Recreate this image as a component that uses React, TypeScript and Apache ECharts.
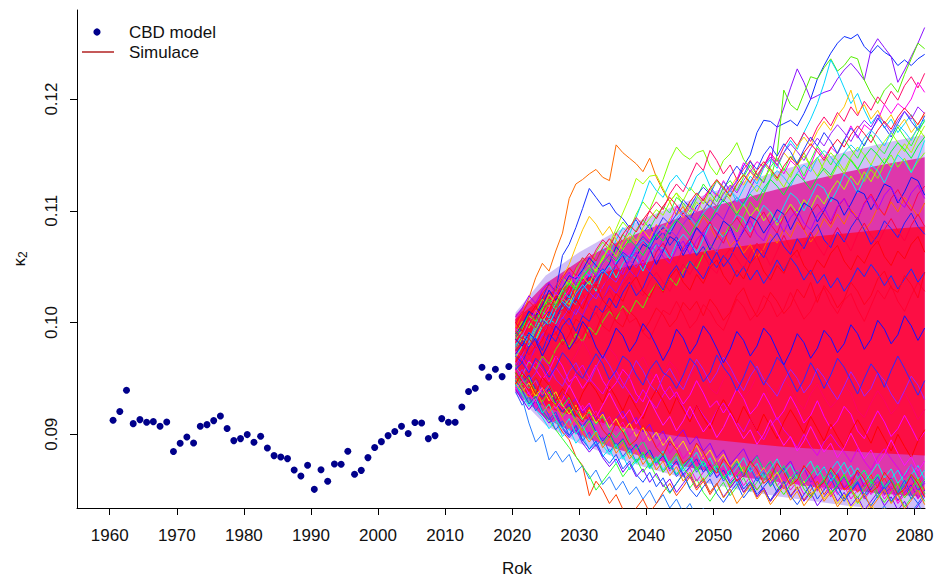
import React, { useEffect, useRef } from "react";
import * as echarts from "echarts";

const FONT = "'Liberation Sans', Arial, Helvetica, sans-serif";

// Observed kappa_2 estimates of the CBD model, one per year starting at obsStart
const obsStart = 1960.5;
const kappa2 = [
  0.09125, 0.09203, 0.09394, 0.09095, 0.09131, 0.09107, 0.09113, 0.09071, 0.0911, 0.08845,
  0.08919, 0.08976, 0.08922, 0.09071, 0.09086, 0.09122, 0.09164, 0.09051, 0.08943, 0.08961,
  0.08997, 0.08928, 0.08982, 0.08877, 0.08809, 0.08797, 0.08782, 0.0868, 0.08626, 0.08722,
  0.08507, 0.08683, 0.08579, 0.08734, 0.08731, 0.08848, 0.08642, 0.08677, 0.08791, 0.08881,
  0.08934, 0.08988, 0.09024, 0.09071, 0.09006, 0.09105, 0.09101, 0.08961, 0.08988, 0.0914,
  0.09107, 0.09107, 0.09244, 0.09382, 0.09412, 0.096, 0.09513, 0.09582, 0.09516, 0.09606,
];

// Simulated trajectories (units of 1e-4), one value per year starting at simStart
const simStart = 2020.5;
const SCALE = 10000;

const upperPaths = [
  [995, 1008, 1022, 1040, 1053, 1046, 1064, 1080, 1111, 1124, 1128, 1133, 1137, 1130, 1127, 1159, 1152, 1147, 1142, 1135, 1147, 1130, 1118, 1108, 1096, 1104, 1090, 1083, 1095, 1086, 1074, 1081, 1068, 1075, 1062, 1070, 1058, 1066, 1079, 1071, 1084, 1076, 1090, 1083, 1072, 1080, 1093, 1085, 1097, 1088, 1101, 1094, 1082, 1090, 1103, 1096, 1108, 1099, 1112, 1104, 1095, 1107],
  [985, 996, 1010, 1004, 1022, 1035, 1028, 1060, 1070, 1085, 1102, 1120, 1112, 1104, 1107, 1098, 1093, 1085, 1092, 1080, 1088, 1074, 1081, 1069, 1077, 1064, 1072, 1060, 1068, 1057, 1049, 1060, 1052, 1041, 1050, 1038, 1047, 1035, 1044, 1056, 1046, 1058, 1050, 1038, 1047, 1035, 1043, 1031, 1040, 1028, 1037, 1049, 1041, 1052, 1044, 1033, 1042, 1030, 1039, 1048, 1036, 1045],
  [972, 980, 991, 985, 998, 1010, 1003, 1016, 1025, 1018, 1030, 1042, 1036, 1048, 1040, 1052, 1061, 1055, 1067, 1074, 1066, 1078, 1085, 1079, 1090, 1098, 1092, 1104, 1110, 1103, 1115, 1108, 1120, 1126, 1140, 1150, 1170, 1181, 1180, 1175, 1178, 1181, 1176, 1187, 1200, 1218, 1230, 1241, 1250, 1256, 1254, 1258, 1247, 1241, 1248, 1242, 1238, 1230, 1235, 1230, 1236, 1240],
  [958, 970, 964, 978, 990, 983, 996, 1005, 998, 1012, 1006, 1019, 1027, 1020, 1033, 1026, 1038, 1047, 1040, 1052, 1045, 1057, 1066, 1058, 1070, 1063, 1075, 1084, 1077, 1090, 1098, 1092, 1105, 1112, 1106, 1120, 1131, 1125, 1142, 1175, 1192, 1210, 1227, 1215, 1200, 1203, 1206, 1208, 1218, 1226, 1232, 1225, 1217, 1244, 1254, 1246, 1238, 1215, 1226, 1238, 1250, 1264],
  [990, 1001, 995, 1009, 1021, 1014, 1028, 1040, 1033, 1047, 1058, 1050, 1063, 1072, 1065, 1080, 1090, 1083, 1097, 1108, 1101, 1115, 1128, 1145, 1157, 1150, 1146, 1152, 1154, 1140, 1132, 1145, 1151, 1161, 1146, 1138, 1130, 1142, 1135, 1127, 1138, 1130, 1144, 1152, 1140, 1148, 1136, 1129, 1141, 1133, 1146, 1138, 1126, 1137, 1129, 1142, 1150, 1139, 1147, 1135, 1144, 1152],
  [960, 952, 965, 958, 970, 963, 976, 985, 978, 990, 983, 996, 989, 1001, 1010, 1003, 1015, 1008, 1020, 1013, 1026, 1035, 1028, 1040, 1033, 1046, 1055, 1048, 1061, 1070, 1063, 1076, 1088, 1081, 1095, 1108, 1100, 1115, 1128, 1150, 1208, 1195, 1190, 1205, 1220, 1218, 1228, 1236, 1225, 1230, 1238, 1236, 1217, 1205, 1196, 1208, 1214, 1206, 1222, 1236, 1250, 1245],
  [978, 990, 984, 998, 1010, 1004, 1018, 1029, 1022, 1036, 1048, 1041, 1055, 1066, 1060, 1074, 1085, 1079, 1094, 1110, 1127, 1118, 1112, 1125, 1132, 1124, 1118, 1131, 1136, 1122, 1114, 1126, 1119, 1108, 1120, 1131, 1124, 1138, 1146, 1138, 1152, 1163, 1155, 1170, 1182, 1196, 1214, 1235, 1224, 1210, 1196, 1205, 1190, 1178, 1186, 1174, 1182, 1170, 1178, 1186, 1172, 1180],
  [1002, 1010, 1004, 1018, 1026, 1019, 1033, 1042, 1036, 1049, 1058, 1052, 1065, 1074, 1068, 1080, 1072, 1085, 1094, 1087, 1100, 1108, 1101, 1115, 1124, 1117, 1130, 1143, 1136, 1154, 1145, 1133, 1141, 1128, 1137, 1145, 1132, 1140, 1152, 1144, 1157, 1166, 1158, 1170, 1162, 1175, 1184, 1176, 1188, 1180, 1193, 1185, 1198, 1190, 1202, 1195, 1207, 1199, 1212, 1220, 1210, 1223],
  [968, 979, 991, 985, 999, 1012, 1025, 1040, 1052, 1068, 1083, 1095, 1088, 1078, 1086, 1074, 1065, 1077, 1070, 1083, 1075, 1088, 1080, 1093, 1101, 1094, 1106, 1099, 1111, 1104, 1116, 1109, 1121, 1130, 1123, 1135, 1127, 1140, 1148, 1140, 1152, 1145, 1158, 1166, 1158, 1171, 1180, 1172, 1185, 1193, 1208, 1187, 1195, 1182, 1190, 1178, 1186, 1174, 1182, 1170, 1178, 1186],
  [975, 986, 979, 993, 1004, 998, 1011, 1022, 1016, 1030, 1041, 1034, 1048, 1056, 1070, 1084, 1098, 1112, 1129, 1124, 1131, 1132, 1120, 1108, 1116, 1104, 1096, 1108, 1100, 1112, 1104, 1117, 1110, 1098, 1106, 1095, 1103, 1091, 1099, 1087, 1095, 1106, 1098, 1110, 1102, 1114, 1106, 1118, 1127, 1119, 1131, 1123, 1135, 1126, 1138, 1147, 1139, 1151, 1160, 1152, 1165, 1176],
  [980, 988, 1001, 994, 1006, 1019, 1012, 1021, 1036, 1030, 1041, 1049, 1045, 1060, 1054, 1066, 1079, 1071, 1083, 1092, 1084, 1095, 1104, 1098, 1112, 1107, 1099, 1111, 1124, 1116, 1108, 1121, 1127, 1118, 1130, 1141, 1132, 1126, 1139, 1147, 1136, 1149, 1143, 1131, 1145, 1158, 1150, 1141, 1152, 1164, 1155, 1147, 1160, 1168, 1157, 1151, 1163, 1175, 1166, 1158, 1170, 1181],
  [970, 979, 991, 984, 996, 1003, 999, 1013, 1021, 1016, 1030, 1037, 1028, 1044, 1051, 1040, 1053, 1061, 1057, 1046, 1059, 1070, 1066, 1057, 1071, 1079, 1072, 1062, 1075, 1088, 1083, 1076, 1085, 1097, 1093, 1081, 1094, 1105, 1099, 1090, 1104, 1116, 1111, 1100, 1112, 1124, 1120, 1108, 1119, 1133, 1127, 1116, 1129, 1141, 1136, 1125, 1138, 1150, 1144, 1134, 1147, 1163],
  [990, 998, 1010, 1006, 1015, 1029, 1020, 1031, 1042, 1039, 1047, 1058, 1051, 1044, 1053, 1068, 1060, 1047, 1059, 1070, 1066, 1052, 1064, 1077, 1073, 1060, 1071, 1085, 1078, 1065, 1077, 1091, 1086, 1072, 1082, 1095, 1091, 1080, 1089, 1101, 1097, 1083, 1095, 1107, 1103, 1090, 1100, 1112, 1109, 1096, 1106, 1118, 1115, 1101, 1112, 1124, 1121, 1107, 1117, 1130, 1127, 1114],
  [995, 988, 1000, 1011, 1004, 1013, 1027, 1020, 1029, 1043, 1036, 1044, 1039, 1052, 1063, 1055, 1064, 1060, 1073, 1081, 1072, 1087, 1080, 1089, 1104, 1095, 1103, 1099, 1112, 1120, 1113, 1127, 1117, 1128, 1143, 1135, 1144, 1139, 1151, 1141, 1133, 1145, 1139, 1128, 1141, 1156, 1147, 1157, 1151, 1163, 1176, 1165, 1177, 1172, 1181, 1195, 1187, 1196, 1191, 1200, 1215, 1206],
  [975, 984, 978, 991, 1002, 997, 1010, 1018, 1011, 1025, 1033, 1026, 1039, 1048, 1040, 1052, 1063, 1058, 1069, 1077, 1071, 1083, 1094, 1088, 1097, 1110, 1103, 1114, 1121, 1115, 1127, 1119, 1131, 1140, 1132, 1144, 1137, 1150, 1158, 1149, 1160, 1153, 1142, 1155, 1166, 1158, 1170, 1162, 1151, 1163, 1174, 1167, 1158, 1171, 1183, 1175, 1166, 1178, 1189, 1180, 1172, 1185],
  [985, 993, 1006, 1001, 1012, 1025, 1017, 1030, 1038, 1032, 1045, 1052, 1046, 1058, 1067, 1059, 1072, 1080, 1073, 1085, 1093, 1101, 1096, 1108, 1116, 1109, 1121, 1114, 1106, 1118, 1127, 1120, 1112, 1124, 1133, 1125, 1117, 1129, 1138, 1130, 1121, 1133, 1141, 1149, 1140, 1131, 1143, 1152, 1145, 1136, 1148, 1157, 1150, 1141, 1153, 1162, 1170, 1161, 1153, 1165, 1174, 1166],
  [962, 971, 983, 977, 989, 998, 992, 1004, 1013, 1007, 1019, 1027, 1021, 1032, 1041, 1036, 1048, 1056, 1049, 1061, 1070, 1063, 1075, 1083, 1077, 1088, 1096, 1090, 1101, 1110, 1104, 1115, 1123, 1116, 1127, 1136, 1129, 1140, 1148, 1141, 1152, 1160, 1153, 1145, 1156, 1165, 1158, 1169, 1177, 1170, 1162, 1173, 1181, 1175, 1186, 1179, 1170, 1181, 1189, 1182, 1193, 1187],
  [1000, 1008, 1019, 1013, 1026, 1034, 1028, 1040, 1049, 1042, 1054, 1062, 1055, 1067, 1075, 1068, 1079, 1087, 1081, 1092, 1100, 1093, 1104, 1112, 1105, 1097, 1108, 1116, 1109, 1120, 1128, 1121, 1113, 1124, 1132, 1125, 1136, 1144, 1137, 1129, 1140, 1148, 1141, 1152, 1160, 1153, 1145, 1156, 1164, 1157, 1168, 1176, 1169, 1161, 1172, 1180, 1173, 1184, 1192, 1185, 1177, 1188],
  [980, 989, 982, 995, 1004, 998, 1011, 1019, 1013, 1026, 1034, 1027, 1040, 1047, 1041, 1054, 1061, 1055, 1067, 1074, 1068, 1080, 1087, 1081, 1093, 1100, 1094, 1086, 1098, 1105, 1099, 1111, 1118, 1112, 1104, 1116, 1123, 1117, 1129, 1136, 1130, 1122, 1134, 1141, 1135, 1147, 1154, 1148, 1140, 1152, 1159, 1153, 1165, 1172, 1166, 1158, 1170, 1177, 1171, 1163, 1175, 1182],
  [988, 996, 1007, 1001, 1013, 1021, 1015, 1027, 1035, 1029, 1040, 1048, 1042, 1053, 1061, 1055, 1066, 1074, 1068, 1060, 1071, 1079, 1073, 1084, 1092, 1086, 1078, 1089, 1097, 1091, 1102, 1110, 1104, 1096, 1107, 1115, 1109, 1120, 1128, 1122, 1114, 1125, 1133, 1127, 1119, 1130, 1138, 1132, 1143, 1151, 1145, 1137, 1148, 1156, 1150, 1142, 1153, 1161, 1155, 1147, 1158, 1166],
];
const upperColors = [
  "#ff6a00", "#1530ff", "#0a2cff", "#8a10ff", "#80ff00", "#55ee00", "#00d4ff",
  "#ff0a6a", "#ffc400", "#a8ff00", "#30ff30", "#00f0f0", "#0018ff", "#ff00ee",
  "#2a3cff", "#9cff00", "#9a20ff", "#ff1030", "#20c8ff", "#00ff30",
];

const lowerPaths = [
  [945, 932, 910, 893, 900, 877, 885, 875, 882, 866, 872, 860, 868, 855, 862, 850, 858, 846, 853, 842, 850, 838, 846, 834, 842, 830, 838, 826, 834, 822, 830, 818, 826, 814, 822, 810, 818, 806, 815, 803, 811, 820, 808, 816, 805, 813, 821, 810, 818, 826, 815, 823, 831, 820, 828, 836, 825, 833, 822, 830, 838, 827],
  [952, 940, 948, 930, 920, 928, 912, 902, 895, 880, 872, 845, 858, 850, 838, 846, 833, 825, 834, 842, 830, 838, 848, 856, 845, 853, 862, 850, 858, 846, 855, 864, 852, 860, 848, 856, 844, 852, 840, 849, 857, 845, 853, 841, 850, 858, 846, 855, 863, 851, 860, 848, 856, 864, 852, 861, 849, 857, 845, 853, 862, 850],
  [948, 936, 928, 935, 920, 912, 904, 896, 888, 880, 871, 863, 850, 858, 866, 874, 862, 870, 878, 866, 874, 862, 855, 847, 856, 864, 852, 860, 848, 840, 849, 857, 845, 853, 861, 849, 857, 865, 853, 861, 870, 858, 866, 854, 862, 850, 858, 846, 854, 842, 850, 838, 846, 855, 843, 851, 839, 847, 835, 843, 851, 840],
  [950, 942, 930, 922, 915, 905, 912, 898, 905, 892, 899, 886, 893, 880, 887, 874, 881, 868, 876, 884, 872, 880, 868, 876, 864, 872, 880, 868, 876, 864, 872, 860, 868, 856, 864, 872, 860, 868, 856, 864, 852, 860, 868, 856, 864, 872, 860, 868, 876, 864, 872, 860, 868, 856, 864, 852, 860, 868, 856, 864, 872, 860],
  [942, 930, 938, 924, 931, 918, 925, 912, 919, 906, 913, 900, 907, 894, 901, 888, 896, 883, 890, 877, 885, 872, 880, 867, 875, 862, 870, 858, 866, 874, 862, 870, 858, 866, 854, 862, 850, 858, 866, 854, 862, 850, 858, 846, 854, 862, 850, 858, 846, 854, 842, 850, 858, 846, 854, 842, 850, 838, 846, 854, 842, 850],
  [955, 946, 953, 940, 933, 941, 928, 920, 927, 914, 907, 915, 902, 894, 901, 889, 896, 884, 891, 879, 886, 874, 881, 869, 876, 864, 871, 878, 866, 873, 861, 868, 856, 863, 851, 858, 846, 853, 860, 848, 855, 862, 850, 857, 845, 852, 859, 847, 854, 842, 849, 856, 844, 851, 858, 846, 853, 841, 848, 855, 843, 850],
  [960, 951, 944, 950, 938, 944, 931, 938, 925, 932, 919, 926, 913, 920, 907, 914, 921, 908, 915, 902, 909, 896, 903, 890, 897, 904, 891, 898, 885, 892, 879, 886, 873, 880, 887, 874, 881, 868, 875, 862, 869, 876, 863, 870, 857, 864, 871, 858, 865, 852, 859, 866, 853, 860, 847, 854, 861, 848, 855, 862, 849, 856],
  [940, 931, 922, 930, 918, 910, 917, 905, 897, 904, 892, 884, 891, 879, 871, 878, 866, 874, 862, 869, 857, 865, 853, 860, 848, 856, 864, 852, 860, 848, 856, 844, 852, 860, 848, 856, 844, 852, 840, 848, 856, 844, 852, 840, 848, 836, 844, 852, 840, 848, 836, 844, 832, 840, 848, 836, 844, 832, 840, 828, 836, 844],
  [962, 950, 941, 948, 936, 944, 932, 925, 933, 921, 913, 920, 909, 916, 904, 897, 905, 893, 886, 894, 882, 875, 883, 871, 864, 872, 880, 868, 876, 864, 872, 860, 868, 876, 864, 872, 880, 868, 876, 864, 872, 860, 868, 856, 864, 872, 860, 868, 856, 864, 852, 860, 868, 856, 864, 852, 860, 848, 856, 864, 852, 860],
  [938, 926, 934, 921, 929, 916, 904, 912, 899, 907, 894, 902, 889, 897, 884, 892, 880, 888, 875, 883, 870, 878, 866, 874, 862, 870, 878, 866, 874, 862, 870, 858, 866, 874, 862, 870, 858, 866, 854, 862, 870, 858, 866, 854, 862, 850, 858, 866, 854, 862, 850, 858, 846, 854, 862, 850, 858, 846, 854, 842, 850, 858],
  [946, 938, 946, 934, 942, 930, 938, 926, 918, 926, 914, 922, 910, 918, 906, 914, 902, 910, 898, 906, 894, 902, 890, 898, 886, 894, 882, 890, 878, 886, 874, 882, 870, 878, 866, 874, 862, 870, 858, 866, 854, 862, 850, 858, 846, 854, 842, 850, 838, 846, 834, 842, 830, 838, 826, 834, 822, 830, 818, 826, 814, 822],
  [948, 939, 927, 934, 921, 913, 920, 906, 899, 908, 895, 887, 894, 881, 874, 882, 869, 876, 864, 857, 866, 853, 861, 848, 856, 865, 851, 844, 853, 860, 847, 839, 848, 856, 843, 851, 862, 849, 841, 850, 858, 845, 837, 846, 855, 842, 850, 861, 848, 840, 849, 857, 844, 836, 845, 853, 840, 848, 859, 846, 838, 847],
  [955, 944, 951, 937, 929, 938, 925, 916, 924, 911, 903, 912, 899, 891, 900, 887, 895, 882, 875, 884, 871, 879, 866, 874, 883, 870, 862, 871, 858, 866, 875, 862, 854, 863, 871, 858, 850, 859, 867, 854, 846, 855, 864, 851, 843, 852, 860, 847, 855, 864, 851, 843, 852, 860, 847, 839, 848, 856, 843, 851, 860, 847],
  [944, 936, 925, 932, 919, 927, 913, 905, 914, 900, 908, 895, 903, 890, 882, 891, 878, 886, 874, 881, 869, 877, 885, 872, 880, 867, 875, 884, 871, 879, 866, 874, 862, 870, 879, 866, 874, 861, 869, 878, 865, 873, 860, 868, 876, 863, 871, 858, 866, 875, 862, 870, 857, 865, 874, 861, 869, 856, 864, 873, 860, 868],
  [958, 949, 940, 948, 935, 943, 930, 922, 931, 918, 926, 913, 921, 908, 916, 903, 911, 898, 906, 893, 901, 888, 896, 883, 891, 878, 886, 873, 881, 868, 876, 863, 871, 858, 866, 874, 861, 869, 856, 864, 851, 859, 867, 854, 862, 849, 857, 844, 852, 860, 847, 855, 842, 850, 858, 845, 853, 840, 848, 856, 843, 851],
  [950, 941, 933, 940, 927, 919, 928, 914, 906, 915, 901, 893, 902, 888, 896, 883, 891, 878, 886, 873, 881, 868, 876, 863, 871, 858, 866, 853, 861, 848, 856, 843, 851, 838, 846, 855, 842, 850, 837, 845, 854, 841, 849, 836, 844, 853, 840, 848, 835, 843, 852, 839, 847, 834, 842, 851, 838, 846, 833, 841, 850, 837],
];
const lowerColors = [
  "#2a7fff", "#ff4000", "#33ff33", "#00e5ff", "#ff00d8", "#0040ff", "#9000ff", "#7a00ff",
  "#00ff60", "#3050ff", "#ffe000", "#1850ff", "#40ff00", "#00ffe0", "#ff00c0", "#ff8000",
];

const corePaths = [
  [975, 983, 971, 979, 994, 987, 990, 1003, 996, 981, 988, 1001, 1009, 997, 992, 1006, 1013, 1000, 1004, 991, 985, 998, 1011, 1007, 1019, 1008, 995, 1002, 1016, 1010, 999, 993, 1007, 1021, 1014, 1002, 1009, 1024, 1018, 1005, 1012, 1027, 1015, 1003, 1010, 1023, 1031, 1017, 1008, 1020, 1026, 1012, 1001, 1015, 1029, 1021, 1033, 1019, 1010, 1024, 1036, 1028],
  [960, 953, 966, 958, 949, 957, 970, 961, 947, 952, 941, 950, 962, 948, 939, 946, 958, 951, 936, 929, 943, 954, 940, 931, 938, 927, 935, 948, 937, 924, 930, 919, 928, 941, 932, 918, 925, 937, 926, 913, 921, 934, 923, 910, 917, 930, 916, 905, 912, 925, 918, 903, 896, 909, 921, 911, 898, 905, 917, 906, 894, 902],
  [970, 964, 978, 986, 975, 990, 983, 997, 1004, 992, 1006, 1001, 1015, 1009, 1022, 1013, 1027, 1036, 1024, 1031, 1045, 1038, 1029, 1043, 1051, 1040, 1055, 1047, 1039, 1052, 1063, 1050, 1058, 1071, 1060, 1053, 1066, 1058, 1072, 1080, 1068, 1061, 1075, 1066, 1079, 1088, 1074, 1067, 1081, 1072, 1085, 1094, 1083, 1070, 1078, 1091, 1084, 1076, 1089, 1098, 1086, 1079],
  [985, 979, 966, 974, 988, 980, 968, 975, 962, 971, 984, 973, 958, 964, 977, 970, 955, 948, 962, 969, 957, 946, 952, 965, 958, 944, 951, 963, 955, 941, 936, 949, 957, 946, 933, 940, 953, 944, 931, 938, 950, 942, 929, 922, 936, 945, 933, 924, 931, 944, 937, 921, 915, 928, 939, 930, 918, 925, 937, 926, 913, 922],
  [965, 973, 986, 977, 984, 999, 991, 980, 989, 1003, 998, 986, 993, 1008, 1014, 1001, 996, 1010, 1004, 992, 1001, 1013, 1007, 996, 1003, 1018, 1011, 1019, 1006, 1021, 1013, 1002, 1009, 1024, 1031, 1016, 1005, 1013, 1027, 1019, 1008, 1015, 1030, 1022, 1036, 1018, 1033, 1025, 1013, 1021, 1036, 1028, 1016, 1024, 1039, 1046, 1031, 1027, 1042, 1034, 1022, 1045],
  [950, 958, 947, 955, 968, 961, 949, 943, 956, 964, 952, 946, 960, 971, 962, 950, 941, 953, 966, 957, 945, 938, 951, 959, 948, 940, 954, 967, 958, 946, 955, 969, 960, 948, 939, 952, 961, 949, 942, 934, 947, 958, 950, 937, 945, 959, 951, 940, 931, 943, 956, 946, 934, 941, 955, 948, 936, 927, 939, 952, 944, 931],
  [992, 985, 998, 1007, 996, 989, 1003, 1012, 1005, 1016, 1026, 1014, 1008, 1021, 1029, 1018, 1033, 1041, 1030, 1024, 1037, 1045, 1036, 1028, 1041, 1052, 1043, 1055, 1062, 1050, 1044, 1058, 1066, 1057, 1048, 1062, 1071, 1063, 1051, 1064, 1078, 1066, 1058, 1070, 1081, 1069, 1060, 1074, 1085, 1075, 1064, 1079, 1089, 1078, 1070, 1083, 1093, 1082, 1073, 1087, 1097, 1086],
  [975, 968, 956, 965, 958, 947, 960, 951, 942, 955, 962, 950, 943, 936, 948, 957, 946, 937, 928, 940, 931, 923, 935, 943, 932, 925, 914, 926, 917, 909, 921, 928, 918, 911, 902, 914, 903, 895, 907, 915, 904, 897, 888, 900, 889, 881, 893, 900, 891, 884, 875, 887, 876, 868, 880, 887, 878, 870, 861, 873, 864, 856],
  [958, 964, 955, 968, 962, 951, 960, 973, 966, 956, 950, 961, 972, 963, 949, 957, 970, 965, 953, 944, 958, 966, 955, 951, 941, 953, 968, 961, 947, 955, 971, 960, 952, 939, 951, 966, 957, 944, 955, 969, 962, 950, 938, 949, 964, 954, 941, 953, 968, 960, 948, 936, 950, 963, 955, 942, 957, 970, 959, 947, 935, 948],
  [982, 991, 1004, 995, 1010, 1018, 1009, 1025, 1033, 1022, 1014, 1029, 1037, 1028, 1044, 1052, 1040, 1033, 1048, 1056, 1047, 1063, 1071, 1060, 1052, 1067, 1075, 1066, 1082, 1090, 1079, 1071, 1086, 1094, 1085, 1076, 1091, 1099, 1088, 1080, 1095, 1103, 1094, 1083, 1098, 1106, 1097, 1088, 1103, 1111, 1100, 1092, 1107, 1115, 1104, 1096, 1111, 1119, 1108, 1100, 1115, 1122],
  [945, 955, 948, 936, 951, 944, 930, 941, 934, 922, 937, 947, 939, 928, 943, 933, 921, 935, 924, 914, 929, 940, 930, 918, 933, 922, 911, 926, 915, 905, 920, 931, 921, 910, 925, 914, 903, 918, 907, 896, 911, 922, 912, 901, 916, 905, 894, 909, 898, 888, 903, 913, 903, 892, 907, 896, 885, 900, 889, 879, 894, 904],
  [1000, 992, 1006, 1015, 1003, 1011, 1024, 1016, 1008, 1021, 1012, 1027, 1034, 1020, 1013, 1026, 1019, 1033, 1041, 1028, 1022, 1035, 1027, 1040, 1048, 1036, 1029, 1043, 1035, 1049, 1056, 1042, 1034, 1047, 1039, 1053, 1060, 1046, 1038, 1051, 1044, 1058, 1065, 1051, 1043, 1056, 1049, 1062, 1069, 1055, 1047, 1060, 1053, 1066, 1073, 1059, 1051, 1064, 1057, 1070, 1077, 1063],
  [940, 948, 936, 929, 942, 935, 923, 931, 944, 932, 921, 928, 915, 926, 937, 925, 914, 922, 909, 918, 931, 919, 908, 916, 903, 912, 925, 913, 902, 910, 897, 906, 919, 907, 896, 904, 891, 900, 913, 901, 890, 898, 885, 894, 907, 895, 884, 892, 879, 888, 901, 889, 878, 886, 873, 882, 895, 883, 872, 880, 867, 876],
  [985, 979, 991, 984, 970, 982, 997, 990, 976, 985, 1001, 993, 978, 968, 980, 995, 988, 974, 983, 999, 991, 979, 966, 977, 994, 986, 972, 981, 997, 989, 977, 964, 976, 992, 984, 970, 979, 995, 988, 975, 962, 974, 990, 982, 968, 977, 993, 986, 973, 981, 998, 990, 976, 985, 1002, 994, 981, 989, 1006, 997, 984, 995],
  [1005, 1013, 1024, 1017, 1029, 1036, 1025, 1038, 1045, 1033, 1046, 1053, 1041, 1054, 1061, 1049, 1043, 1056, 1063, 1051, 1064, 1071, 1059, 1053, 1066, 1073, 1061, 1074, 1081, 1069, 1063, 1076, 1083, 1071, 1084, 1091, 1079, 1073, 1086, 1093, 1081, 1094, 1101, 1089, 1083, 1096, 1103, 1091, 1104, 1111, 1099, 1093, 1106, 1113, 1101, 1114, 1121, 1109, 1103, 1116, 1123, 1111],
  [955, 947, 939, 951, 943, 932, 925, 938, 930, 918, 911, 924, 916, 904, 897, 910, 902, 890, 895, 908, 900, 888, 881, 894, 886, 874, 879, 892, 884, 872, 865, 878, 870, 858, 863, 876, 868, 856, 861, 874, 866, 854, 859, 872, 864, 852, 857, 870, 862, 850, 855, 868, 860, 848, 853, 866, 858, 846, 851, 864, 856, 844],
];
const coreColors = [
  "#ff0030", "#ff00ff", "#2020ff", "#ff0066", "#ff0020", "#a020ff", "#ff0040", "#e000f0",
  "#2a2aff", "#ff0050", "#ff0000", "#ff0010", "#ff10ff", "#1010ff", "#b000ff", "#ff2000",
];

// Density envelopes of the simulated fan (units of 1e-4)
const bandYears = [2020.5, 2025, 2030, 2035, 2040, 2045, 2050, 2055, 2060, 2065, 2070, 2075, 2081.5];
const haloLow = [936, 908, 892, 880, 870, 862, 855, 849, 844, 840, 836, 833, 830];
const haloHigh = [1009, 1042, 1063, 1080, 1094, 1106, 1117, 1127, 1136, 1145, 1153, 1160, 1168];
const outerLow = [938, 914, 899, 888, 879, 872, 866, 861, 857, 853, 850, 847, 844];
const outerHigh = [1007, 1035, 1055, 1070, 1083, 1094, 1104, 1112, 1120, 1128, 1135, 1141, 1148];
const innerLow = [942, 924, 915, 908, 903, 898, 895, 892, 889, 887, 885, 883, 881];
const innerHigh = [1003, 1025, 1038, 1047, 1054, 1060, 1065, 1069, 1073, 1077, 1080, 1083, 1086];

const xTicks = [1960, 1970, 1980, 1990, 2000, 2010, 2020, 2030, 2040, 2050, 2060, 2070, 2080];
const yTicks = [0.09, 0.1, 0.11, 0.12];

function bandSeries(years: number[], lo: number[], hi: number[], fill: string, opacity: number) {
  return {
    type: "custom",
    silent: true,
    clip: true,
    z: 1,
    data: [[years[0], lo[0] / SCALE]],
    renderItem: (_params: any, api: any) => {
      const pts: number[][] = years.map((y, i) => api.coord([y, hi[i] / SCALE]));
      for (let i = years.length - 1; i >= 0; i--) pts.push(api.coord([years[i], lo[i] / SCALE]));
      return { type: "polygon", shape: { points: pts }, style: { fill, opacity } };
    },
  };
}

function pathSeries(path: number[], color: string, z: number) {
  return {
    type: "line",
    silent: true,
    clip: true,
    z,
    symbol: "none",
    data: path.map((v, k) => [simStart + k, v / SCALE]),
    lineStyle: { color, width: 1 },
  };
}

export default function App() {
  const ref = useRef<HTMLDivElement>(null);

  useEffect(() => {
    if (!ref.current) return;
    document.body.style.margin = "0";
    const chart = echarts.init(ref.current, undefined, { renderer: "svg" });

    const series: any[] = [
      bandSeries(bandYears, haloLow, haloHigh, "#7a48e8", 0.35),
      bandSeries(bandYears, outerLow, outerHigh, "#e0189a", 0.82),
      bandSeries(bandYears, innerLow, innerHigh, "#ff0a38", 0.9),
      ...lowerPaths.map((p, i) => pathSeries(p, lowerColors[i % lowerColors.length], 2)),
      ...upperPaths.map((p, i) => pathSeries(p, upperColors[i % upperColors.length], 2)),
      ...corePaths.map((p, i) => pathSeries(p, coreColors[i % coreColors.length], 3)),
      {
        type: "scatter",
        z: 5,
        symbol: "circle",
        symbolSize: 7,
        data: kappa2.map((v, i) => [obsStart + i, v]),
        itemStyle: { color: "#00008b", opacity: 1 },
      },
    ];

    chart.setOption({
      animation: false,
      backgroundColor: "#ffffff",
      grid: { left: 77, right: 13, top: 10, bottom: 72 },
      xAxis: {
        type: "value",
        min: 1955.12,
        max: 2081.55,
        splitLine: { show: false },
        axisLine: { show: true, onZero: false, lineStyle: { color: "#000", width: 1 } },
        axisTick: { show: true, length: 7, customValues: xTicks, lineStyle: { color: "#000" } },
        axisLabel: {
          customValues: xTicks,
          fontSize: 17,
          fontFamily: FONT,
          color: "#111",
          margin: 19,
          formatter: (v: number) => String(Math.round(v)),
        },
      },
      yAxis: {
        type: "value",
        min: 0.0834,
        max: 0.12797,
        splitLine: { show: false },
        axisLine: { show: true, onZero: false, lineStyle: { color: "#000", width: 1 } },
        axisTick: { show: true, length: 7, customValues: yTicks, lineStyle: { color: "#000" } },
        axisLabel: {
          customValues: yTicks,
          rotate: 90,
          fontSize: 17,
          fontFamily: FONT,
          color: "#111",
          margin: 17,
          formatter: (v: number) => v.toFixed(2),
        },
      },
      graphic: [
        { type: "circle", shape: { cx: 97, cy: 32, r: 3.6 }, style: { fill: "#00008b" }, z: 10 },
        {
          type: "text",
          x: 129,
          y: 32,
          style: { text: "CBD model", fontSize: 17, fontFamily: FONT, fill: "#111", align: "left", verticalAlign: "middle" },
          z: 10,
        },
        { type: "line", shape: { x1: 82, y1: 52, x2: 114, y2: 52 }, style: { stroke: "#b22222", lineWidth: 1.5 }, z: 10 },
        {
          type: "text",
          x: 129,
          y: 52,
          style: { text: "Simulace", fontSize: 17, fontFamily: FONT, fill: "#111", align: "left", verticalAlign: "middle" },
          z: 10,
        },
        {
          type: "text",
          x: 517,
          y: 568,
          style: { text: "Rok", fontSize: 17, fontFamily: FONT, fill: "#111", align: "center", verticalAlign: "middle" },
        },
        {
          type: "text",
          x: 19,
          y: 259,
          rotation: Math.PI / 2,
          style: {
            text: "{k|κ}{s|2}",
            align: "center",
            verticalAlign: "middle",
            fill: "#111",
            rich: {
              k: { fontSize: 17, fontFamily: FONT, lineHeight: 20, verticalAlign: "middle", fill: "#111" },
              s: { fontSize: 12, fontFamily: FONT, lineHeight: 12, verticalAlign: "bottom", fill: "#111" },
            },
          },
        },
      ],
      series,
    });

    return () => chart.dispose();
  }, []);

  return <div ref={ref} style={{ width: 938, height: 580 }} />;
}
